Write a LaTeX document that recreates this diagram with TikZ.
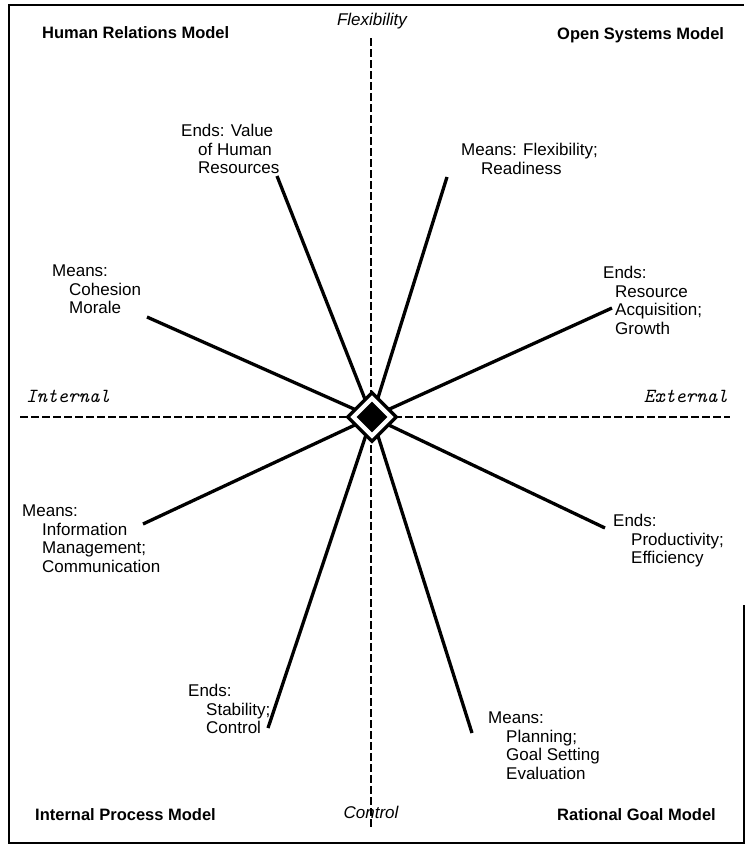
\documentclass[tikz,border=0pt]{standalone}
\usepackage{fontspec}
\setmainfont{Liberation Sans}
\usetikzlibrary{shapes.geometric}
\begin{document}
\begin{tikzpicture}[x=1pt,y=-1pt,
  lbl/.style={anchor=north west,inner sep=0pt,align=left,font=\fontsize{17}{18.5}\selectfont},
  title/.style={anchor=north west,inner sep=0pt,font=\fontsize{16.5}{18}\selectfont\bfseries},
  axlbl/.style={inner sep=0pt,font=\fontsize{17}{19}\selectfont\itshape},
  ttlbl/.style={inner sep=0pt,anchor=base,font=\fontsize{20}{22}\selectfont\ttfamily\itshape},
  spoke/.style={line width=3.3pt},
  axis/.style={line width=2.6pt,dash pattern=on 7.5pt off 3.5pt}]
\useasboundingbox (0,0) rectangle (746,846);
% frame
\draw[line width=2pt] (744,605) -- (744,843) -- (9,843) -- (9,5) -- (744,5);
% axes
\coordinate (c) at (372,417);
\coordinate (vt) at (371,38);
\coordinate (vb) at (371,828);
\coordinate (hl) at (20,417);
\coordinate (hr) at (730,417);
\draw[axis] (vt) -- (vb);
\draw[axis] (hl) -- (hr);
% spoke ends
\coordinate (s1) at (277,176);
\coordinate (s2) at (447,177);
\coordinate (s3) at (147,317);
\coordinate (s4) at (612,308);
\coordinate (s5) at (143,524);
\coordinate (s6) at (605,528);
\coordinate (s7) at (268,728);
\coordinate (s8) at (472,733);
\foreach \s in {s1,s2,s3,s4,s5,s6,s7,s8}
  \draw[spoke] (\s) -- (c);
% centre diamond
\node (dout) at (c) [diamond,draw,line width=3.3pt,fill=white,minimum width=50pt,minimum height=50pt,inner sep=0pt] {};
\node (din) at (c) [diamond,fill=black,minimum width=31pt,minimum height=31pt,inner sep=0pt] {};
% corner titles
\node[title] (hrm) at (42,26) {Human Relations Model};
\node[title] (os) at (557,27) {Open Systems Model};
\node[title] (ip) at (35,808) {Internal Process Model};
\node[title] (rg) at (557,808) {Rational Goal Model};
% axis labels
\node[axlbl,anchor=north] (flex) at (372,13) {Flexibility};
\node[axlbl,anchor=north] (ctrl) at (371,806) {Control};
\node[ttlbl,anchor=base west] (int) at (26,402) {Internal};
\node[ttlbl,anchor=base east] (ext) at (728,402) {External};
% spoke labels
\node[lbl] (l1) at (181,124) {Ends: Value\\\hspace*{17pt}of Human\\\hspace*{17pt}Resources};
\node[lbl] (l2) at (461,143) {Means: Flexibility;\\\hspace*{20pt}Readiness};
\node[lbl] (l3) at (52,265) {Means:\\\hspace*{17pt}Cohesion\\\hspace*{17pt}Morale};
\node[lbl] (l4) at (603,266) {Ends:\\\hspace*{12pt}Resource\\\hspace*{12pt}Acquisition;\\\hspace*{12pt}Growth};
\node[lbl] (l5) at (22,505) {Means:\\\hspace*{20pt}Information\\\hspace*{20pt}Management;\\\hspace*{20pt}Communication};
\node[lbl] (l6) at (613,514) {Ends:\\\hspace*{18pt}Productivity;\\\hspace*{18pt}Efficiency};
\node[lbl] (l7) at (188,684) {Ends:\\\hspace*{18pt}Stability;\\\hspace*{18pt}Control};
\node[lbl] (l8) at (488,712) {Means:\\\hspace*{18pt}Planning;\\\hspace*{18pt}Goal Setting\\\hspace*{18pt}Evaluation};
\end{tikzpicture}
\end{document}
